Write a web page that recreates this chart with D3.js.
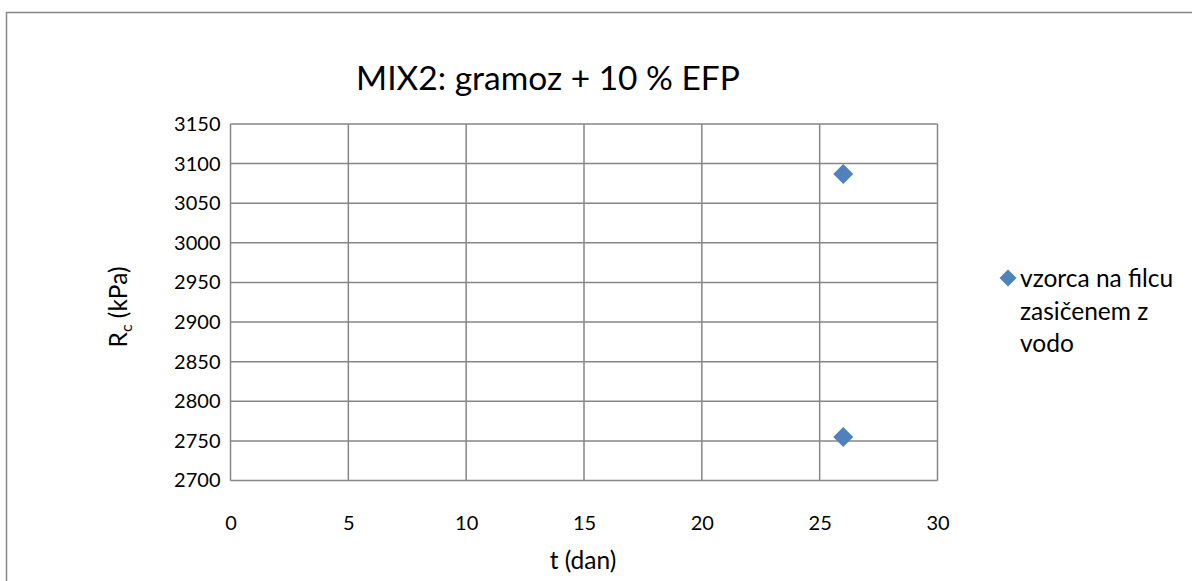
<!DOCTYPE html>
<html>
<head>
<meta charset="utf-8">
<script src="https://cdn.jsdelivr.net/npm/d3@7"></script>
<style>
  body { margin: 0; background: #fff; }
  svg text { font-family: Lato, "Open Sans", sans-serif; fill: #000; }
</style>
</head>
<body>
<svg id="chart" width="1192" height="581"></svg>
<script>
// Uniaxial compressive strength of MIX2 specimens
const days = [26, 26];
const strength = [3087, 2755];
const seriesName = ["vzorca na filcu", "zasičenem z", "vodo"];
const xTicks = [0, 5, 10, 15, 20, 25, 30];
const yTicks = [2700, 2750, 2800, 2850, 2900, 2950, 3000, 3050, 3100, 3150];

const svg = d3.select("#chart");
const W = 1192, H = 581;
const plot = { left: 230.5, top: 124, right: 937.5, bottom: 480.5 };
const gridColor = "#868686";
const markColor = "#4f81bd";
const tickSize = 20;
const labelSize = 24.5;

// chart frame
svg.append("rect")
  .attr("x", 6.5).attr("y", 12.5)
  .attr("width", W + 10).attr("height", H + 10)
  .attr("fill", "#fff").attr("stroke", gridColor).attr("stroke-width", 1.5);

const x = d3.scaleLinear().domain([0, 30]).range([plot.left, plot.right]);
const y = d3.scaleLinear().domain([2700, 3150]).range([plot.bottom, plot.top]);

// gridlines
svg.append("g").selectAll("line").data(yTicks).join("line")
  .attr("x1", plot.left).attr("x2", plot.right)
  .attr("y1", d => y(d)).attr("y2", d => y(d))
  .attr("stroke", gridColor).attr("stroke-width", 1.5);
svg.append("g").selectAll("line").data(xTicks).join("line")
  .attr("y1", plot.top).attr("y2", plot.bottom)
  .attr("x1", d => x(d)).attr("x2", d => x(d))
  .attr("stroke", gridColor).attr("stroke-width", 1.5);

// tick labels
const yAxis = d3.axisLeft(y).tickValues(yTicks).tickFormat(d3.format("d")).tickSize(0).tickPadding(10);
const gy = svg.append("g").attr("transform", `translate(${plot.left},0)`).call(yAxis);
gy.select(".domain").remove();
gy.selectAll("text").attr("font-size", tickSize).attr("fill", "#000");

const xAxis = d3.axisBottom(x).tickValues(xTicks).tickFormat(d3.format("d")).tickSize(0).tickPadding(35);
const gx = svg.append("g").attr("transform", `translate(0,${plot.bottom})`).call(xAxis);
gx.select(".domain").remove();
gx.selectAll("text").attr("font-size", tickSize).attr("fill", "#000");

// title
svg.append("text")
  .attr("x", 548).attr("y", 90)
  .attr("text-anchor", "middle").attr("font-size", 33.5)
  .text("MIX2: gramoz + 10 % EFP");

// axis titles
svg.append("text")
  .attr("x", 583).attr("y", 569)
  .attr("text-anchor", "middle").attr("font-size", labelSize)
  .text("t (dan)");

const yt = svg.append("text")
  .attr("transform", "translate(127,307) rotate(-90)")
  .attr("text-anchor", "middle").attr("font-size", labelSize);
yt.append("tspan").text("R");
yt.append("tspan").attr("font-size", 16).attr("dy", 5).text("c");
yt.append("tspan").attr("dy", -5).text(" (kPa)");

// data points
svg.append("g").selectAll("path").data(days.map((d, i) => [d, strength[i]])).join("path")
  .attr("d", d3.symbol().type(d3.symbolSquare).size(200))
  .attr("transform", d => `translate(${x(d[0])},${y(d[1])}) rotate(45)`)
  .attr("fill", markColor);

// legend
const lg = svg.append("g");
lg.append("path")
  .attr("d", d3.symbol().type(d3.symbolSquare).size(144))
  .attr("transform", "translate(1008,278) rotate(45)")
  .attr("fill", markColor);
lg.selectAll("text").data(seriesName).join("text")
  .attr("x", 1020).attr("y", (d, i) => 287 + i * 32.5)
  .attr("font-size", labelSize)
  .text(d => d);
</script>
</body>
</html>
